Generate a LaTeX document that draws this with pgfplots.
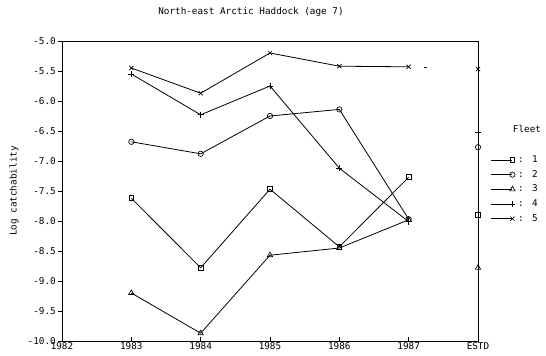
\documentclass[border=0pt]{standalone}
\usepackage{fontspec}
\setmainfont{DejaVu Sans Mono}
\usepackage{pgfplots}
\pgfplotsset{compat=1.18}
\begin{document}
\begin{tikzpicture}[font=\fontsize{7}{8}\selectfont]
\useasboundingbox (-46.5pt,-10.5pt) rectangle (363pt,255.75pt);
\begin{axis}[
  at={(0pt,0pt)}, anchor=south west,
  scale only axis, width=312pt, height=225pt,
  xmin=1982, xmax=1988, ymin=-10, ymax=-5,
  clip=false,
  axis line style={line width=0.6pt},
  xtick={1982,1983,1984,1985,1986,1987,1988},
  xticklabels={1982,1983,1984,1985,1986,1987,ESTD},
  ytick={-10,-9.5,-9,-8.5,-8,-7.5,-7,-6.5,-6,-5.5,-5},
  xtick pos=bottom, ytick pos=left,
  xtick align=inside, ytick align=outside,
  major tick length=3pt,
  tick style={line width=0.5pt, black},
  /pgf/number format/assume math mode=true,
  yticklabel style={/pgf/number format/fixed, /pgf/number format/fixed zerofill,
    /pgf/number format/precision=1, inner sep=1.5pt},
  xticklabel style={inner sep=1pt},
  ylabel={Log catchability},
  ylabel style={at={(axis description cs:-0.1154,0.5)}, anchor=center},
  every axis plot/.append style={black, line width=0.6pt, mark options={solid, line width=0.5pt}},
  legend image code/.code={\draw[mark repeat=2, mark phase=2, #1] plot coordinates {(0pt,0pt) (15.75pt,0pt)};},
  legend style={draw=none, fill=none, inner sep=0pt, outer sep=0pt,
    at={(axis description cs:1.03125,0.6167)}, anchor=north west,
    row sep=5pt, column sep=2pt,
    nodes={inner sep=0pt, text height=5pt, text depth=1pt}},
  legend cell align=left,
]
% yearly log catchability by fleet
\addplot[mark=square, mark size=1.8pt] coordinates {
  (1983,-7.62) (1984,-8.78) (1985,-7.47) (1986,-8.43) (1987,-7.27)};
\addlegendentry{:\hspace{6.3pt}1}
\addplot[mark=o, mark size=2pt] coordinates {
  (1983,-6.68) (1984,-6.88) (1985,-6.25) (1986,-6.14) (1987,-7.97)};
\addlegendentry{:\hspace{6.3pt}2}
\addplot[mark=triangle, mark size=2.3pt] coordinates {
  (1983,-9.20) (1984,-9.87) (1985,-8.57) (1986,-8.45) (1987,-7.98)};
\addlegendentry{:\hspace{6.3pt}3}
\addplot[mark=+, mark size=2.3pt] coordinates {
  (1983,-5.55) (1984,-6.23) (1985,-5.75) (1986,-7.12) (1987,-8.01)};
\addlegendentry{:\hspace{6.3pt}4}
\addplot[mark=x, mark size=2.2pt] coordinates {
  (1983,-5.45) (1984,-5.87) (1985,-5.20) (1986,-5.42) (1987,-5.43)};
\addlegendentry{:\hspace{6.3pt}5}
% estimated values, drawn on the right-hand edge
\addplot[forget plot, only marks, mark=square, mark size=1.8pt] coordinates {(1988,-7.90)};
\addplot[forget plot, only marks, mark=o, mark size=2pt] coordinates {(1988,-6.77)};
\addplot[forget plot, only marks, mark=triangle, mark size=2.3pt] coordinates {(1988,-8.78)};
\addplot[forget plot, only marks, mark=+, mark size=2.3pt] coordinates {(1988,-6.53)};
\addplot[forget plot, only marks, mark=x, mark size=2.2pt] coordinates {(1988,-5.47)};
\addplot[forget plot, line width=0.5pt] coordinates {(1987.22,-5.44) (1987.26,-5.44)};
\end{axis}
\node at (141.75pt,246.75pt) {North-east Arctic Haddock (age 7)};
\node at (348.75pt,159pt) {Fleet};
\end{tikzpicture}
\end{document}
